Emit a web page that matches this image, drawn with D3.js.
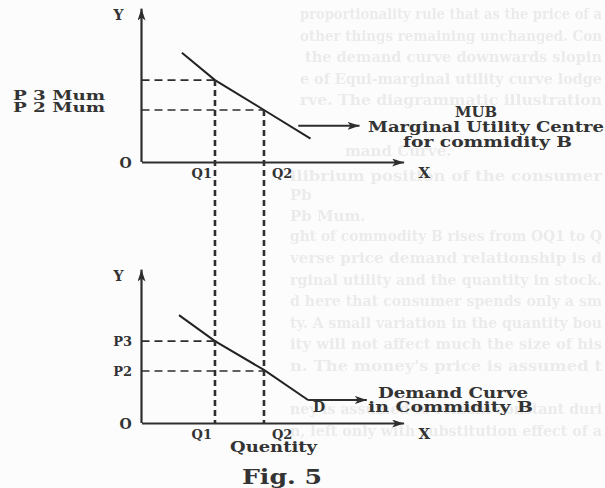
<!DOCTYPE html>
<html>
<head>
<meta charset="utf-8">
<script src="https://cdn.jsdelivr.net/npm/d3@7"></script>
<style>
  html, body { margin: 0; padding: 0; background: #fcfcfc; }
  svg { display: block; }
  text { font-family: "DejaVu Serif", "Liberation Serif", serif; font-weight: bold; fill: #333; }
</style>
</head>
<body>
<svg id="fig" width="605" height="488"></svg>
<script>
// Quantities marked on both panels and the matching price levels
const qLabels = ["Q1", "Q2"];
const qValues = [3, 5];
const pLabelsTop = ["P 3 Mum", "P 2 Mum"];
const pLabelsBottom = ["P3", "P2"];
const pValues = [6.3, 4.0];

// Marginal utility schedule for commodity B (quantity, utility in money)
const mubCurve = [[1.65, 8.4], [3, 6.3], [5, 4.0], [6.9, 1.8]];
// Demand schedule for commodity B (quantity, price)
const demandCurve = [[1.53, 8.3], [3, 6.3], [5, 4.08], [6.8, 1.77]];
const demandTailEnd = 9.2;
const mubPointerFrom = 6.4;
const mubPointerTo = 8.9;

// Faint show-through from the reverse of the page
const backLines = [
  "proportionality rule that as the price of a",
  "other things remaining unchanged. Con",
  "the demand curve downwards slopin",
  "e of Equi-marginal utility curve lodge",
  "rve. The diagrammatic illustration",
  "mand Curve.",
  "ilibrium position of the consumer",
  "Pb",
  "Pb Mum.",
  "ght of commodity B rises from OQ1 to Q",
  "verse price demand relationship is d",
  "rginal utility and the quantity in stock.",
  "d here that consumer spends only a sm",
  "ty. A small variation in the quantity bou",
  "ity will not affect much the size of his",
  "n. The money's price is assumed t",
  "ney is assumed to remain constant duri",
  "n, left only with substitution effect of a"
];
const backRows = [0, 1, 2, 3, 4, 6.35, 7.5, 8.4, 9.35, 10.3, 11.3, 12.3, 13.3, 14.3, 15.3, 16.3, 18.3, 19.3];
const backStart = [300, 300, 305, 300, 300, 345, 290, 290, 290, 290, 290, 290, 290, 290, 290, 290, 290, 290];

const svg = d3.select("#fig");
const ink = "#2e2e2e";

const defs = svg.append("defs");
defs.append("marker")
  .attr("id", "head")
  .attr("viewBox", "0 0 12 8")
  .attr("refX", 12).attr("refY", 4)
  .attr("markerWidth", 12).attr("markerHeight", 8)
  .attr("markerUnits", "userSpaceOnUse")
  .attr("orient", "auto")
  .append("path").attr("d", "M0,0 L12,4 L0,8 L3,4 Z").attr("fill", ink);
defs.append("filter").attr("id", "soft")
  .append("feGaussianBlur").attr("stdDeviation", 0.7);

// Show-through text layer, each line running to the right margin
const back = svg.append("g").attr("filter", "url(#soft)");
back.selectAll("text").data(backLines).join("text")
  .attr("x", (d, i) => backStart[i])
  .attr("y", (d, i) => 19 + backRows[i] * 21.6)
  .attr("font-size", 15)
  .attr("textLength", (d, i) => d.length < 15 ? null : 602 - backStart[i])
  .attr("lengthAdjust", "spacingAndGlyphs")
  .style("fill", "#ebebeb")
  .text(d => d);

// Shared scales; the two panels differ only in their vertical placement
const x = d3.scaleLinear().domain([0, 10.7]).range([141.5, 403.6]);
const yTop = d3.scaleLinear().domain([0, 11.8]).range([162, 8.6]);
const yBot = d3.scaleLinear().domain([0, 11.8]).range([423, 269.6]);

function panel(y, curve) {
  const g = svg.append("g");

  // X axis with arrowhead
  const xa = g.append("g").attr("transform", `translate(0,${y(0)})`)
    .call(d3.axisBottom(x).tickValues([]).tickSizeOuter(0));
  xa.select(".domain").attr("stroke", ink).attr("stroke-width", 2.2).attr("marker-end", "url(#head)");

  // Y axis with arrowhead (drawn bottom-to-top so the head sits on top)
  const ya = g.append("g").attr("transform", `translate(${x(0)},0)`)
    .call(d3.axisLeft(y).tickValues([]).tickSizeOuter(0));
  ya.select(".domain")
    .attr("d", `M0,${y.range()[0]}V${y.range()[1]}`)
    .attr("stroke", ink).attr("stroke-width", 2.2).attr("marker-end", "url(#head)");

  // Horizontal guides from the price axis to the curve
  g.selectAll(".hguide").data(pValues).join("line")
    .attr("x1", x(0)).attr("x2", (d, i) => x(qValues[i]))
    .attr("y1", d => y(d)).attr("y2", d => y(d))
    .attr("stroke", ink).attr("stroke-width", 1.6).attr("stroke-dasharray", "8,5");

  // The schedule itself
  g.append("path").datum(curve)
    .attr("d", d3.line().x(d => x(d[0])).y(d => y(d[1])))
    .attr("fill", "none").attr("stroke", "#222").attr("stroke-width", 2);

  // Axis letters
  g.append("text").attr("x", x(0) - 28).attr("y", y.range()[1] + 11).attr("font-size", 14).text("Y");
  g.append("text").attr("x", x(0) - 22).attr("y", y(0) + 6).attr("font-size", 14).text("O");
  g.append("text").attr("x", x.range()[1] + 15).attr("y", y(0) + 16).attr("font-size", 15).text("X");

  // Quantity labels below the axis
  g.selectAll(".qlab").data(qLabels).join("text")
    .attr("x", (d, i) => i === 0 ? x(qValues[i]) - 3 : x(qValues[i]) + 8)
    .attr("y", y(0) + 16)
    .attr("text-anchor", (d, i) => i === 0 ? "end" : "start")
    .attr("font-size", 13)
    .text(d => d);
  return g;
}

// Upper panel: marginal utility of B
const upper = panel(yTop, mubCurve);
upper.selectAll(".plab").data(pLabelsTop).join("text")
  .attr("x", 13).attr("y", (d, i) => yTop(pValues[i]) + (i === 0 ? 20 : 2))
  .attr("font-size", 13).attr("textLength", 92).attr("lengthAdjust", "spacingAndGlyphs")
  .text(d => d);

upper.append("line")
  .attr("x1", x(mubPointerFrom)).attr("x2", x(mubPointerTo))
  .attr("y1", yTop(2.78)).attr("y2", yTop(2.78))
  .attr("stroke", ink).attr("stroke-width", 2).attr("marker-end", "url(#head)");

const mubText = [
  { t: "MUB", x: 476, y: 117, w: 42, anchor: "middle" },
  { t: "Marginal Utility Centre", x: 368, y: 132, w: 236, anchor: "start" },
  { t: "for commidity B", x: 403, y: 147, w: 169, anchor: "start" }
];
upper.selectAll(".mub").data(mubText).join("text")
  .attr("x", d => d.x).attr("y", d => d.y).attr("text-anchor", d => d.anchor)
  .attr("font-size", 14).attr("textLength", d => d.w).attr("lengthAdjust", "spacingAndGlyphs")
  .text(d => d.t);

// Lower panel: demand for B
const lower = panel(yBot, demandCurve);
lower.selectAll(".plab").data(pLabelsBottom).join("text")
  .attr("x", 132).attr("y", (d, i) => yBot(pValues[i]) + 5)
  .attr("text-anchor", "end").attr("font-size", 13)
  .text(d => d);

const last = demandCurve[demandCurve.length - 1];
lower.append("line")
  .attr("x1", x(last[0])).attr("x2", x(demandTailEnd))
  .attr("y1", yBot(last[1])).attr("y2", yBot(last[1]))
  .attr("stroke", ink).attr("stroke-width", 2).attr("marker-end", "url(#head)");
lower.append("text").attr("x", x(last[0]) + 5).attr("y", yBot(last[1]) + 12)
  .attr("font-size", 14).text("D");

const demText = [
  { t: "Demand Curve", x: 378, y: 398, w: 150 },
  { t: "in Commidity B", x: 368, y: 412, w: 165 }
];
lower.selectAll(".dem").data(demText).join("text")
  .attr("x", d => d.x).attr("y", d => d.y)
  .attr("font-size", 14).attr("textLength", d => d.w).attr("lengthAdjust", "spacingAndGlyphs")
  .text(d => d.t);

lower.append("text").attr("x", 230).attr("y", 452).attr("font-size", 14)
  .attr("textLength", 87).attr("lengthAdjust", "spacingAndGlyphs").text("Quentity");

// Vertical guides joining the two panels at Q1 and Q2
svg.selectAll(".vguide").data(qValues).join("line")
  .attr("x1", d => x(d)).attr("x2", d => x(d))
  .attr("y1", (d, i) => yTop(pValues[i])).attr("y2", yBot(0))
  .attr("stroke", ink).attr("stroke-width", 2.6).attr("stroke-dasharray", "6,4");

// Caption
svg.append("text").attr("x", 282).attr("y", 484).attr("text-anchor", "middle")
  .attr("font-size", 20).attr("textLength", 80).attr("lengthAdjust", "spacingAndGlyphs")
  .text("Fig. 5");
</script>
</body>
</html>
